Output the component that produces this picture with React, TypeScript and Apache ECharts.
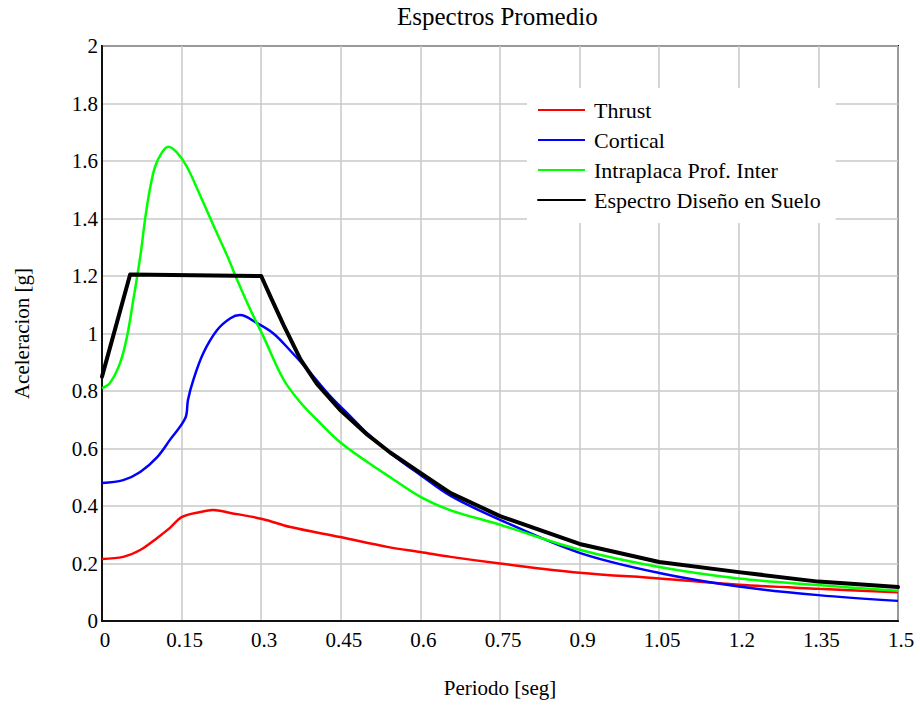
import React, { useEffect, useRef } from "react";
import * as echarts from "echarts";

// Period T [s] and spectral acceleration Sa [g] for each average spectrum
const thrust: [number, number][] = [
  [0, 0.216], [0.04, 0.223], [0.072, 0.247], [0.104, 0.289], [0.128, 0.324],
  [0.151, 0.362], [0.185, 0.379], [0.209, 0.386], [0.242, 0.376], [0.302, 0.355],
  [0.355, 0.327], [0.449, 0.292], [0.54, 0.257], [0.6, 0.24], [0.657, 0.223],
  [0.75, 0.2], [0.9, 0.168], [1.05, 0.148], [1.2, 0.126], [1.35, 0.112], [1.5, 0.1],
];

const cortical: [number, number][] = [
  [0, 0.48], [0.04, 0.49], [0.072, 0.518], [0.104, 0.57], [0.128, 0.63],
  [0.157, 0.706], [0.162, 0.769], [0.172, 0.838], [0.191, 0.932], [0.217, 1.012],
  [0.242, 1.053], [0.26, 1.064], [0.292, 1.036], [0.323, 1.0], [0.355, 0.94],
  [0.387, 0.875], [0.43, 0.782], [0.468, 0.712], [0.5, 0.652], [0.55, 0.575],
  [0.6, 0.508], [0.657, 0.435], [0.75, 0.352], [0.9, 0.237], [1.05, 0.167],
  [1.2, 0.12], [1.35, 0.09], [1.5, 0.07],
];

const intraplaca: [number, number][] = [
  [0, 0.81], [0.015, 0.828], [0.034, 0.897], [0.047, 0.988], [0.058, 1.106],
  [0.072, 1.266], [0.081, 1.395], [0.09, 1.5], [0.1, 1.58], [0.113, 1.63],
  [0.125, 1.65], [0.141, 1.63], [0.16, 1.58], [0.185, 1.48], [0.209, 1.38],
  [0.236, 1.27], [0.255, 1.185], [0.279, 1.085], [0.304, 0.99], [0.342, 0.84],
  [0.374, 0.76], [0.405, 0.7], [0.45, 0.62], [0.5, 0.553], [0.543, 0.5],
  [0.6, 0.432], [0.657, 0.385], [0.75, 0.335], [0.9, 0.248], [1.05, 0.188],
  [1.2, 0.148], [1.35, 0.125], [1.5, 0.105],
];

const disenoSuelo: [number, number][] = [
  [0, 0.85], [0.053, 1.205], [0.3, 1.2], [0.317, 1.13], [0.342, 1.03],
  [0.374, 0.91], [0.405, 0.825], [0.45, 0.732], [0.5, 0.648], [0.543, 0.586],
  [0.6, 0.515], [0.657, 0.445], [0.75, 0.365], [0.9, 0.268], [1.05, 0.205],
  [1.2, 0.17], [1.35, 0.137], [1.5, 0.118],
];

const seriesNames = [
  "Thrust",
  "Cortical",
  "Intraplaca Prof. Inter",
  "Espectro Diseño en Suelo",
];

const FONT = "'Liberation Serif', 'Times New Roman', serif";

export default function App() {
  const ref = useRef<HTMLDivElement>(null);

  useEffect(() => {
    if (!ref.current) return;
    const chart = echarts.init(ref.current, undefined, { renderer: "svg" });

    const fmt = (v: number) => String(+v.toFixed(2));

    chart.setOption({
      animation: false,
      backgroundColor: "#fff",
      title: {
        text: "Espectros Promedio",
        left: 397,
        top: 4,
        padding: 0,
        textStyle: { fontFamily: FONT, fontSize: 25, fontWeight: "normal", color: "#000" },
      },
      grid: {
        left: 102,
        right: 22,
        top: 46,
        bottom: 86,
        show: true,
        borderColor: "#111",
        borderWidth: 2,
        backgroundColor: "#fff",
      },
      legend: {
        orient: "vertical",
        left: 527,
        top: 88,
        padding: [11, 15, 12, 10],
        itemGap: 8,
        itemWidth: 47,
        itemHeight: 1,
        backgroundColor: "#fff",
        itemStyle: { opacity: 0 },
        data: seriesNames,
        textStyle: { fontFamily: FONT, fontSize: 22, color: "#000", padding: [0, 0, 0, 4] },
      },
      xAxis: {
        type: "value",
        min: 0,
        max: 1.5,
        interval: 0.15,
        name: "Periodo [seg]",
        nameLocation: "middle",
        nameGap: 56,
        nameTextStyle: { fontFamily: FONT, fontSize: 21, color: "#000" },
        axisLine: { show: true, onZero: false, lineStyle: { color: "#111", width: 2 } },
        axisTick: { show: false },
        axisLabel: {
          formatter: fmt,
          margin: 8,
          padding: [0, 0, 0, 6],
          fontFamily: FONT,
          fontSize: 21,
          color: "#000",
        },
        splitLine: { show: true, lineStyle: { color: "#c8c8c8", width: 1.5 } },
      },
      yAxis: {
        type: "value",
        min: 0,
        max: 2,
        interval: 0.2,
        name: "Aceleracion [g]",
        nameLocation: "middle",
        nameGap: 70,
        nameTextStyle: { fontFamily: FONT, fontSize: 21, color: "#000" },
        axisLine: { show: true, lineStyle: { color: "#111", width: 2 } },
        axisTick: { show: false },
        axisLabel: {
          formatter: fmt,
          margin: 4,
          padding: [4, 0, 0, 0],
          fontFamily: FONT,
          fontSize: 21,
          color: "#000",
        },
        splitLine: { show: true, lineStyle: { color: "#c8c8c8", width: 1.5 } },
      },
      series: [
        {
          name: seriesNames[0],
          type: "line",
          data: thrust,
          symbol: "none",
          smooth: 0.35,
          lineStyle: { color: "#ff0000", width: 2.5 },
          itemStyle: { color: "#ff0000" },
        },
        {
          name: seriesNames[1],
          type: "line",
          data: cortical,
          symbol: "none",
          smooth: 0.35,
          lineStyle: { color: "#0000ff", width: 2.5 },
          itemStyle: { color: "#0000ff" },
        },
        {
          name: seriesNames[2],
          type: "line",
          data: intraplaca,
          symbol: "none",
          smooth: 0.35,
          lineStyle: { color: "#00ff00", width: 2.5 },
          itemStyle: { color: "#00ff00" },
        },
        {
          name: seriesNames[3],
          type: "line",
          data: disenoSuelo,
          symbol: "none",
          smooth: false,
          lineStyle: { color: "#000000", width: 4, cap: "round", join: "round" },
          itemStyle: { color: "#000000" },
        },
      ],
    });

    return () => chart.dispose();
  }, []);

  return (
    <div
      ref={ref}
      style={{ position: "fixed", left: 0, top: 0, width: 920, height: 707 }}
    />
  );
}
